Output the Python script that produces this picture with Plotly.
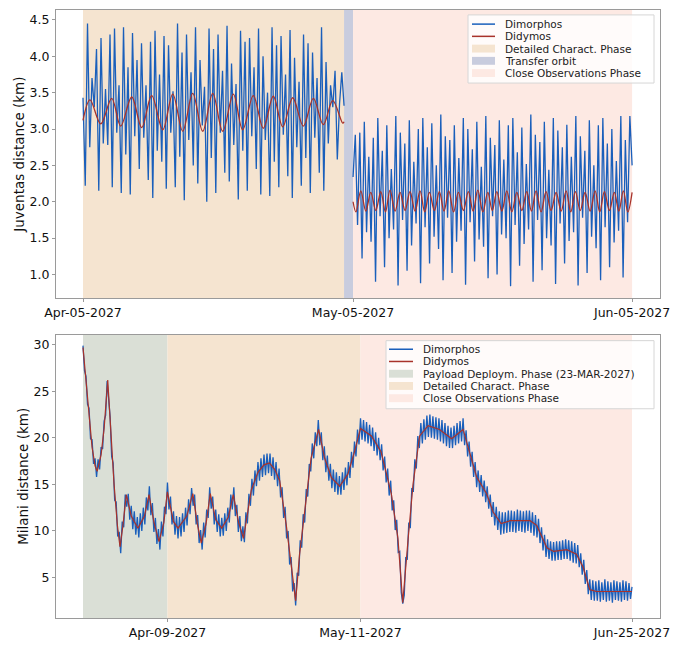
import pandas as pd
import plotly.graph_objects as go

# ---------------- data ----------------
# Juventas (top panel): Dimorphos distance sampled every 6 h, two arcs
juv_start_1 = "2027-04-05"
juv_start_2 = "2027-05-05"
juv_dimorphos_1 = [
    3.43, 2.22, 4.45, 2.75, 3.70, 3.30, 4.10, 2.15, 4.25, 2.80,
    3.55, 2.78, 4.30, 2.20, 4.38, 2.95, 3.60, 2.12, 4.40, 2.65,
    3.85, 2.10, 4.32, 2.90, 3.95, 2.45, 4.18, 2.88, 3.60, 2.30,
    4.20, 2.05, 4.35, 2.70, 3.75, 2.55, 4.28, 2.18, 4.15, 2.95,
    3.52, 2.20, 4.45, 2.62, 4.05, 2.02, 4.30, 2.85, 3.78, 2.50,
    4.40, 2.25, 3.95, 3.05, 3.58, 2.00, 4.38, 2.60, 4.10, 2.12,
    4.30, 2.95, 3.80, 2.40, 4.42, 2.28, 3.90, 2.78, 3.62, 2.03,
    4.35, 2.70, 4.20, 2.15, 4.25, 2.90, 3.85, 2.45, 4.38, 2.10,
    4.00, 2.85, 3.50, 2.08, 4.40, 2.55, 4.15, 2.20, 4.28, 2.92,
    3.75, 2.35, 4.36, 2.05, 3.98, 2.75, 3.65, 2.22, 4.30, 2.60,
    4.18, 2.12, 4.05, 2.88, 3.70, 2.40, 4.40, 2.15, 3.92, 2.80,
    3.60, 3.30, 3.80, 2.58, 3.35, 3.78, 3.32,
]
juv_dimorphos_2 = [
    2.34, 2.92, 1.68, 2.95, 1.22, 3.10, 1.58, 2.62, 1.45, 2.88,
    0.90, 3.15, 1.80, 2.70, 1.10, 3.05, 1.50, 2.45, 1.62, 3.18,
    0.85, 2.95, 1.75, 2.80, 1.05, 3.12, 1.40, 2.55, 1.70, 3.00,
    0.88, 3.15, 1.65, 2.75, 1.15, 3.08, 1.52, 2.50, 1.35, 3.20,
    0.92, 2.90, 1.78, 2.85, 1.02, 3.05, 1.45, 2.60, 1.60, 3.15,
    0.86, 3.00, 1.72, 2.72, 1.18, 3.10, 1.48, 2.48, 1.38, 3.18,
    0.95, 2.88, 1.80, 2.78, 1.00, 3.12, 1.55, 2.58, 1.50, 3.05,
    0.84, 3.15, 1.68, 2.68, 1.12, 3.02, 1.42, 2.52, 1.62, 3.20,
    0.90, 2.92, 1.75, 2.82, 1.06, 3.10, 1.50, 2.44, 1.40, 3.15,
    0.87, 2.98, 1.70, 2.75, 1.15, 3.06, 1.46, 2.62, 1.58, 3.18,
    0.85, 2.90, 1.78, 2.70, 1.02, 3.12, 1.52, 2.50, 1.36, 3.05,
    0.92, 3.15, 1.65, 2.80, 1.10, 3.00, 1.44, 2.56, 1.60, 3.18,
    0.96, 2.85, 1.72, 3.18, 2.50,
]
# Didymos distance, turning points (days after Apr-05-2027)
juv_didymos_day_1 = [
    0, 0.78, 1.97, 3.19, 4.19, 5.41, 6.52, 7.63, 8.86, 9.97,
    11.08, 12.19, 13.3, 14.41, 15.52, 16.7, 17.74, 18.92, 20.03, 21.14,
    22.19, 23.3, 24.48, 25.59, 26.7, 27.74, 28.86, 29.0,
]
juv_didymos_km_1 = [
    3.12, 3.40, 3.07, 3.42, 3.04, 3.44, 3.02, 3.46, 2.99, 3.48,
    2.97, 3.49, 2.97, 3.49, 2.97, 3.48, 2.99, 3.46, 3.01, 3.45,
    3.03, 3.43, 3.04, 3.42, 3.06, 3.39, 3.08, 3.10,
]
juv_didymos_day_2 = [
    30.0, 30.32, 30.86, 31.42, 31.97, 32.53, 33.08, 33.6, 34.11, 34.67,
    35.22, 35.78, 36.33, 36.89, 37.44, 37.96, 38.48, 39.04, 39.59, 40.11,
    40.63, 41.17, 41.7, 42.26, 42.81, 43.34, 43.86, 44.42, 44.97, 45.47,
    45.97, 46.53, 47.08, 47.64, 48.19, 48.75, 49.3, 49.82, 50.33, 50.89,
    51.44, 52.0, 52.56, 53.12, 53.67, 54.19, 54.7, 55.24, 55.78, 56.34,
    56.89, 57.41, 57.92, 58.48, 59.03, 59.53, 60.03, 60.52, 61.0,
]
juv_didymos_km_2 = [
    2.00, 1.86, 2.15, 1.87, 2.13, 1.88, 2.14, 1.86, 2.16, 1.87,
    2.13, 1.88, 2.14, 1.87, 2.15, 1.86, 2.13, 1.88, 2.14, 1.87,
    2.15, 1.86, 2.13, 1.88, 2.14, 1.87, 2.16, 1.86, 2.13, 1.88,
    2.14, 1.87, 2.15, 1.86, 2.13, 1.88, 2.14, 1.87, 2.15, 1.86,
    2.14, 1.88, 2.13, 1.87, 2.15, 1.86, 2.14, 1.88, 2.13, 1.87,
    2.15, 1.86, 2.14, 1.88, 2.13, 1.87, 2.15, 1.86, 2.13,
]
juv_phase_names = ["Detailed Charact. Phase", "Transfer orbit", "Close Observations Phase"]
juv_phase_start = ["2027-04-05", "2027-05-04", "2027-05-05"]
juv_phase_end = ["2027-05-04", "2027-05-05", "2027-06-05"]
juv_xticks = ["2027-04-05", "2027-05-05", "2027-06-05"]
juv_yticks = [1.0, 1.5, 2.0, 2.5, 3.0, 3.5, 4.0, 4.5]

# Milani (bottom panel): Dimorphos distance every 6 h from Mar-26-2027
mil_start = "2027-03-26"
mil_dimorphos = [
    29.9, 27.2, 26.6, 23.6, 23.2, 19.9, 19.8, 17.2, 17.8, 15.8, 17.7, 16.6,
    19.0, 18.8, 21.8, 22.4, 26.1, 23.6, 22.2, 18.0, 17.3, 13.3, 13.1, 9.4,
    9.9, 7.6, 11.0, 10.4, 13.9, 12.6, 14.0, 11.2, 12.7, 10.2, 12.1, 9.6,
    11.5, 9.3, 11.9, 10.0, 12.5, 10.7, 13.6, 12.2, 14.8, 11.7, 13.0, 9.9,
    11.4, 8.6, 10.2, 8.0, 11.0, 9.4, 12.6, 11.8, 15.2, 12.3, 13.7, 10.7,
    12.1, 9.6, 11.6, 9.2, 11.5, 9.4, 11.9, 9.9, 12.5, 10.6, 13.4, 11.8,
    14.6, 12.7, 13.9, 10.7, 11.7, 8.7, 10.1, 8.0, 10.9, 9.3, 12.3, 11.4,
    14.7, 12.4, 13.7, 10.7, 12.3, 9.9, 11.8, 9.4, 11.4, 9.5, 11.9, 10.0,
    12.5, 10.9, 13.9, 12.3, 14.7, 11.6, 12.8, 9.9, 11.6, 8.9, 10.5, 8.8,
    12.0, 10.8, 14.0, 12.7, 15.6, 13.8, 16.5, 14.8, 17.4, 15.4, 17.8, 15.8,
    18.2, 16.0, 18.3, 16.2, 18.3, 15.9, 17.9, 15.5, 17.4, 14.8, 16.7, 13.6,
    14.7, 11.4, 12.6, 9.2, 10.0, 6.4, 7.2, 3.5, 4.4, 2.0, 5.5, 5.2,
    9.0, 8.2, 11.8, 10.9, 14.5, 13.7, 17.2, 16.4, 19.4, 17.8, 20.6, 19.1,
    21.9, 19.2, 20.6, 17.6, 19.1, 16.3, 18.1, 15.4, 17.2, 14.6, 16.6, 14.2,
    16.3, 13.9, 15.9, 13.9, 16.3, 14.4, 16.8, 14.9, 17.4, 15.7, 18.5, 16.8,
    19.6, 18.0, 20.9, 19.3, 22.1, 19.8, 21.9, 19.6, 21.7, 19.4, 21.4, 19.1,
    21.1, 18.6, 20.6, 18.1, 20.0, 17.6, 19.3, 16.5, 18.0, 15.2, 16.7, 13.8,
    15.4, 12.2, 13.3, 10.1, 11.2, 7.7, 7.8, 3.4, 2.2, 3.1, 7.2, 6.9,
    10.9, 10.3, 14.6, 14.2, 17.7, 16.7, 20.2, 18.9, 21.6, 19.4, 22.0, 19.8,
    22.4, 20.1, 22.5, 20.0, 22.3, 19.9, 22.2, 19.8, 22.1, 19.6, 21.9, 19.4,
    21.6, 19.1, 21.3, 18.9, 21.1, 18.9, 21.3, 19.2, 21.6, 19.4, 21.8, 19.6,
    22.1, 19.2, 20.8, 18.0, 19.6, 16.9, 18.5, 15.8, 17.4, 14.7, 16.5, 14.2,
    16.0, 13.7, 15.4, 13.1, 14.8, 12.4, 13.9, 11.5, 13.1, 10.6, 12.6, 10.1,
    12.1, 9.6, 12.0, 9.7, 12.0, 9.8, 12.2, 9.9, 12.2, 9.9, 12.1, 9.8,
    12.3, 10.0, 12.2, 9.9, 12.1, 9.8, 12.2, 10.0, 12.2, 9.8, 12.0, 9.5,
    11.7, 9.3, 11.3, 8.7, 10.4, 7.9, 9.6, 7.2, 9.1, 7.0, 8.9, 6.8,
    8.8, 6.8, 8.9, 6.9, 8.9, 6.9, 9.0, 7.0, 9.1, 7.0, 9.0, 6.8,
    8.9, 6.6, 8.7, 6.5, 8.5, 6.1, 7.6, 5.3, 6.9, 4.3, 5.8, 3.2,
    4.8, 2.6, 4.7, 2.5, 4.6, 2.5, 4.7, 2.4, 4.5, 2.6, 4.8, 2.4,
    4.6, 2.5, 4.5, 2.3, 4.7, 2.6, 4.6, 2.5, 4.5, 2.4, 4.7, 2.6,
    4.6, 2.5, 4.4, 2.7, 4.0,
]
# Didymos distance key points (days after Mar-26-2027)
mil_didymos_day = [
    0, 0.5, 1.0, 1.5, 2.0, 2.35, 3.0, 3.5, 4.1, 4.6,
    5.15, 5.7, 6.13, 6.6, 7.18, 8.0, 9.1, 10.2, 10.94, 11.77,
    12.6, 13.4, 13.98, 15.0, 15.75, 17.2, 18.2, 19.0, 19.6, 20.4,
    21.1, 22.0, 23.0, 24.1, 24.9, 25.8, 26.6, 27.9, 29.0, 30.0,
    30.9, 31.8, 32.6, 33.7, 34.5, 35.25, 35.9, 36.75, 37.8, 39.05,
    40.06, 41.2, 42.55, 43.9, 45.0, 46.0, 47.8, 49.4, 51.1, 52.2,
    53.0, 53.9, 54.7, 55.8, 57.2, 59.1, 61.1, 63.0, 64.15, 65.25,
    66.9, 68.0, 69.3, 70.8, 74.1, 75.2, 76.9, 78.0, 80.2, 81.8,
    82.9, 84.0, 85.1, 91.0,
]
mil_didymos_km = [
    29.7, 26.0, 22.4, 19.0, 17.0, 16.4, 18.2, 21.0, 26.2, 20.2,
    15.0, 10.6, 8.3, 10.5, 13.9, 11.6, 10.3, 11.6, 13.9, 10.9,
    8.85, 10.9, 14.2, 11.0, 10.3, 11.6, 14.0, 10.6, 8.7, 10.8,
    14.0, 11.2, 10.3, 11.5, 13.9, 10.9, 9.2, 14.4, 16.3, 17.1,
    17.3, 16.6, 15.4, 10.6, 6.1, 2.5, 7.5, 12.0, 17.8, 20.9,
    17.8, 15.7, 14.8, 16.1, 18.5, 21.0, 20.2, 18.5, 14.0, 9.2,
    2.3, 9.2, 15.0, 20.2, 21.3, 20.9, 19.9, 20.9, 18.2, 15.8,
    14.0, 12.0, 10.8, 11.1, 11.1, 10.6, 8.2, 7.8, 8.0, 7.5,
    6.1, 3.7, 3.5, 3.5,
]
mil_phase_names = ["Payload Deploym. Phase (23-MAR-2027)", "Detailed Charact. Phase",
                   "Close Observations Phase"]
mil_phase_start = ["2027-03-26", "2027-04-09", "2027-05-11"]
mil_phase_end = ["2027-04-09", "2027-05-11", "2027-06-25"]
mil_xticks = ["2027-04-09", "2027-05-11", "2027-06-25"]
mil_yticks = [5, 10, 15, 20, 25, 30]

# ---------------- style ----------------
BLUE = "#1a5fbb"
RED = "#a8322a"
PHASE_COLORS = {
    "Detailed Charact. Phase": "#f5e4d0",
    "Transfer orbit": "#c8ccde",
    "Close Observations Phase": "#fde9e3",
    "Payload Deploym. Phase (23-MAR-2027)": "#dadfd6",
}
FONT = "DejaVu Sans"

# the page body keeps its default 8 px margin, so the figure is made
# 16 px smaller than the window and every position below is in window pixels
PAGE_W, PAGE_H, BODY = 686, 649, 8
W, H = PAGE_W - 2 * BODY, PAGE_H - 2 * BODY
PLOT_L, PLOT_R, PLOT_T, PLOT_B = 56, 660, 9, 625


def px_x(px):
    return (px - PLOT_L) / (PLOT_R - PLOT_L)


def px_y(py):
    return (PLOT_B - py) / (PLOT_B - PLOT_T)


def day_dates(start, days):
    return pd.Timestamp(start) + pd.to_timedelta(days, unit="D")


fig = go.Figure()

# top panel traces
juv_x = (list(pd.date_range(juv_start_1, periods=len(juv_dimorphos_1), freq="6h")) + [None]
         + list(pd.date_range(juv_start_2, periods=len(juv_dimorphos_2), freq="6h")))
fig.add_trace(go.Scatter(
    x=juv_x, y=juv_dimorphos_1 + [None] + juv_dimorphos_2,
    mode="lines", line=dict(color=BLUE, width=1.3), name="Dimorphos",
    xaxis="x", yaxis="y", showlegend=False,
))
fig.add_trace(go.Scatter(
    x=list(day_dates(juv_start_1, juv_didymos_day_1)) + [None]
      + list(day_dates(juv_start_1, juv_didymos_day_2)),
    y=juv_didymos_km_1 + [None] + juv_didymos_km_2,
    mode="lines", line=dict(color=RED, width=1.3, shape="spline", smoothing=1.0),
    name="Didymos", xaxis="x", yaxis="y", showlegend=False,
))

# bottom panel traces
fig.add_trace(go.Scatter(
    x=pd.date_range(mil_start, periods=len(mil_dimorphos), freq="6h"), y=mil_dimorphos,
    mode="lines", line=dict(color=BLUE, width=1.3), name="Dimorphos",
    xaxis="x2", yaxis="y2", showlegend=False,
))
fig.add_trace(go.Scatter(
    x=day_dates(mil_start, mil_didymos_day), y=mil_didymos_km,
    mode="lines", line=dict(color=RED, width=1.2), name="Didymos",
    xaxis="x2", yaxis="y2", showlegend=False,
))

# phase bands
shapes = []
for names, starts, ends, xr, yr in [
    (juv_phase_names, juv_phase_start, juv_phase_end, "x", "y domain"),
    (mil_phase_names, mil_phase_start, mil_phase_end, "x2", "y2 domain"),
]:
    for n, s, e in zip(names, starts, ends):
        shapes.append(dict(type="rect", xref=xr, yref=yr, x0=s, x1=e, y0=0, y1=1,
                           fillcolor=PHASE_COLORS[n], line=dict(width=0), layer="below"))

# hand-made legends (matplotlib-like compact boxes)
annotations = []
legends = [
    dict(box=(468, 14, 654, 83), row0=23.3, icon=(472, 495), text_x=504, phases=juv_phase_names),
    dict(box=(386, 344, 654, 413), row0=352.7, icon=(389, 413), text_x=422, phases=mil_phase_names),
]
ROW_GAP = 12.4
for lg in legends:
    x0, y0, x1, y1 = lg["box"]
    shapes.append(dict(type="rect", xref="paper", yref="paper",
                       x0=px_x(x0), x1=px_x(x1), y0=px_y(y0), y1=px_y(y1),
                       fillcolor="rgba(255,255,255,0.8)", line=dict(color="#d6d6d6", width=1)))
    labels = ["Dimorphos", "Didymos"] + lg["phases"]
    ix0, ix1 = lg["icon"]
    for i, label in enumerate(labels):
        ry = lg["row0"] + i * ROW_GAP
        if i < 2:
            shapes.append(dict(type="line", xref="paper", yref="paper",
                               x0=px_x(ix0), x1=px_x(ix1), y0=px_y(ry), y1=px_y(ry),
                               line=dict(color=[BLUE, RED][i], width=1.5)))
        else:
            shapes.append(dict(type="rect", xref="paper", yref="paper",
                               x0=px_x(ix0), x1=px_x(ix1), y0=px_y(ry + 4), y1=px_y(ry - 4),
                               fillcolor=PHASE_COLORS[label], line=dict(width=0)))
        annotations.append(dict(text=label, xref="paper", yref="paper",
                                x=px_x(lg["text_x"]), y=px_y(ry), xanchor="left", yanchor="middle",
                                borderpad=0, showarrow=False,
                                font=dict(family=FONT, size=10.5, color="#222")))

axis_common = dict(
    showline=True, mirror=True, linecolor="#9a9a9a", linewidth=1,
    ticks="outside", ticklen=3, tickcolor="#9a9a9a",
    showgrid=False, zeroline=False,
    tickfont=dict(family=FONT, size=12.5, color="#111"),
)

fig.update_layout(
    width=W, height=H,
    margin=dict(l=PLOT_L - BODY, r=W - (PLOT_R - BODY), t=PLOT_T - BODY, b=H - (PLOT_B - BODY)),
    paper_bgcolor="white", plot_bgcolor="white",
    font=dict(family=FONT),
    showlegend=False,
    shapes=shapes,
    annotations=annotations,
    xaxis=dict(axis_common, domain=[0, 1], anchor="y", type="date",
               range=["2027-04-02 00:00", "2027-06-08 02:24"],
               tickvals=juv_xticks, tickformat="%b-%d-%Y"),
    yaxis=dict(axis_common, domain=[px_y(301), 1], anchor="x",
               range=[0.674, 4.636], tickvals=juv_yticks, tickformat=".1f",
               title=dict(text="Juventas distance (km)", standoff=1,
                          font=dict(family=FONT, size=13.5, color="#111"))),
    xaxis2=dict(axis_common, domain=[0, 1], anchor="y2", type="date",
                range=["2027-03-21 12:36", "2027-06-29 15:22"],
                tickvals=mil_xticks, tickformat="%b-%d-%Y"),
    yaxis2=dict(axis_common, domain=[0, px_y(338)], anchor="x2",
                range=[0.655, 31.07], tickvals=mil_yticks,
                title=dict(text="Milani distance (km)", standoff=1,
                           font=dict(family=FONT, size=13.5, color="#111"))),
)

fig.write_html("out.html", config={"displayModeBar": False})
